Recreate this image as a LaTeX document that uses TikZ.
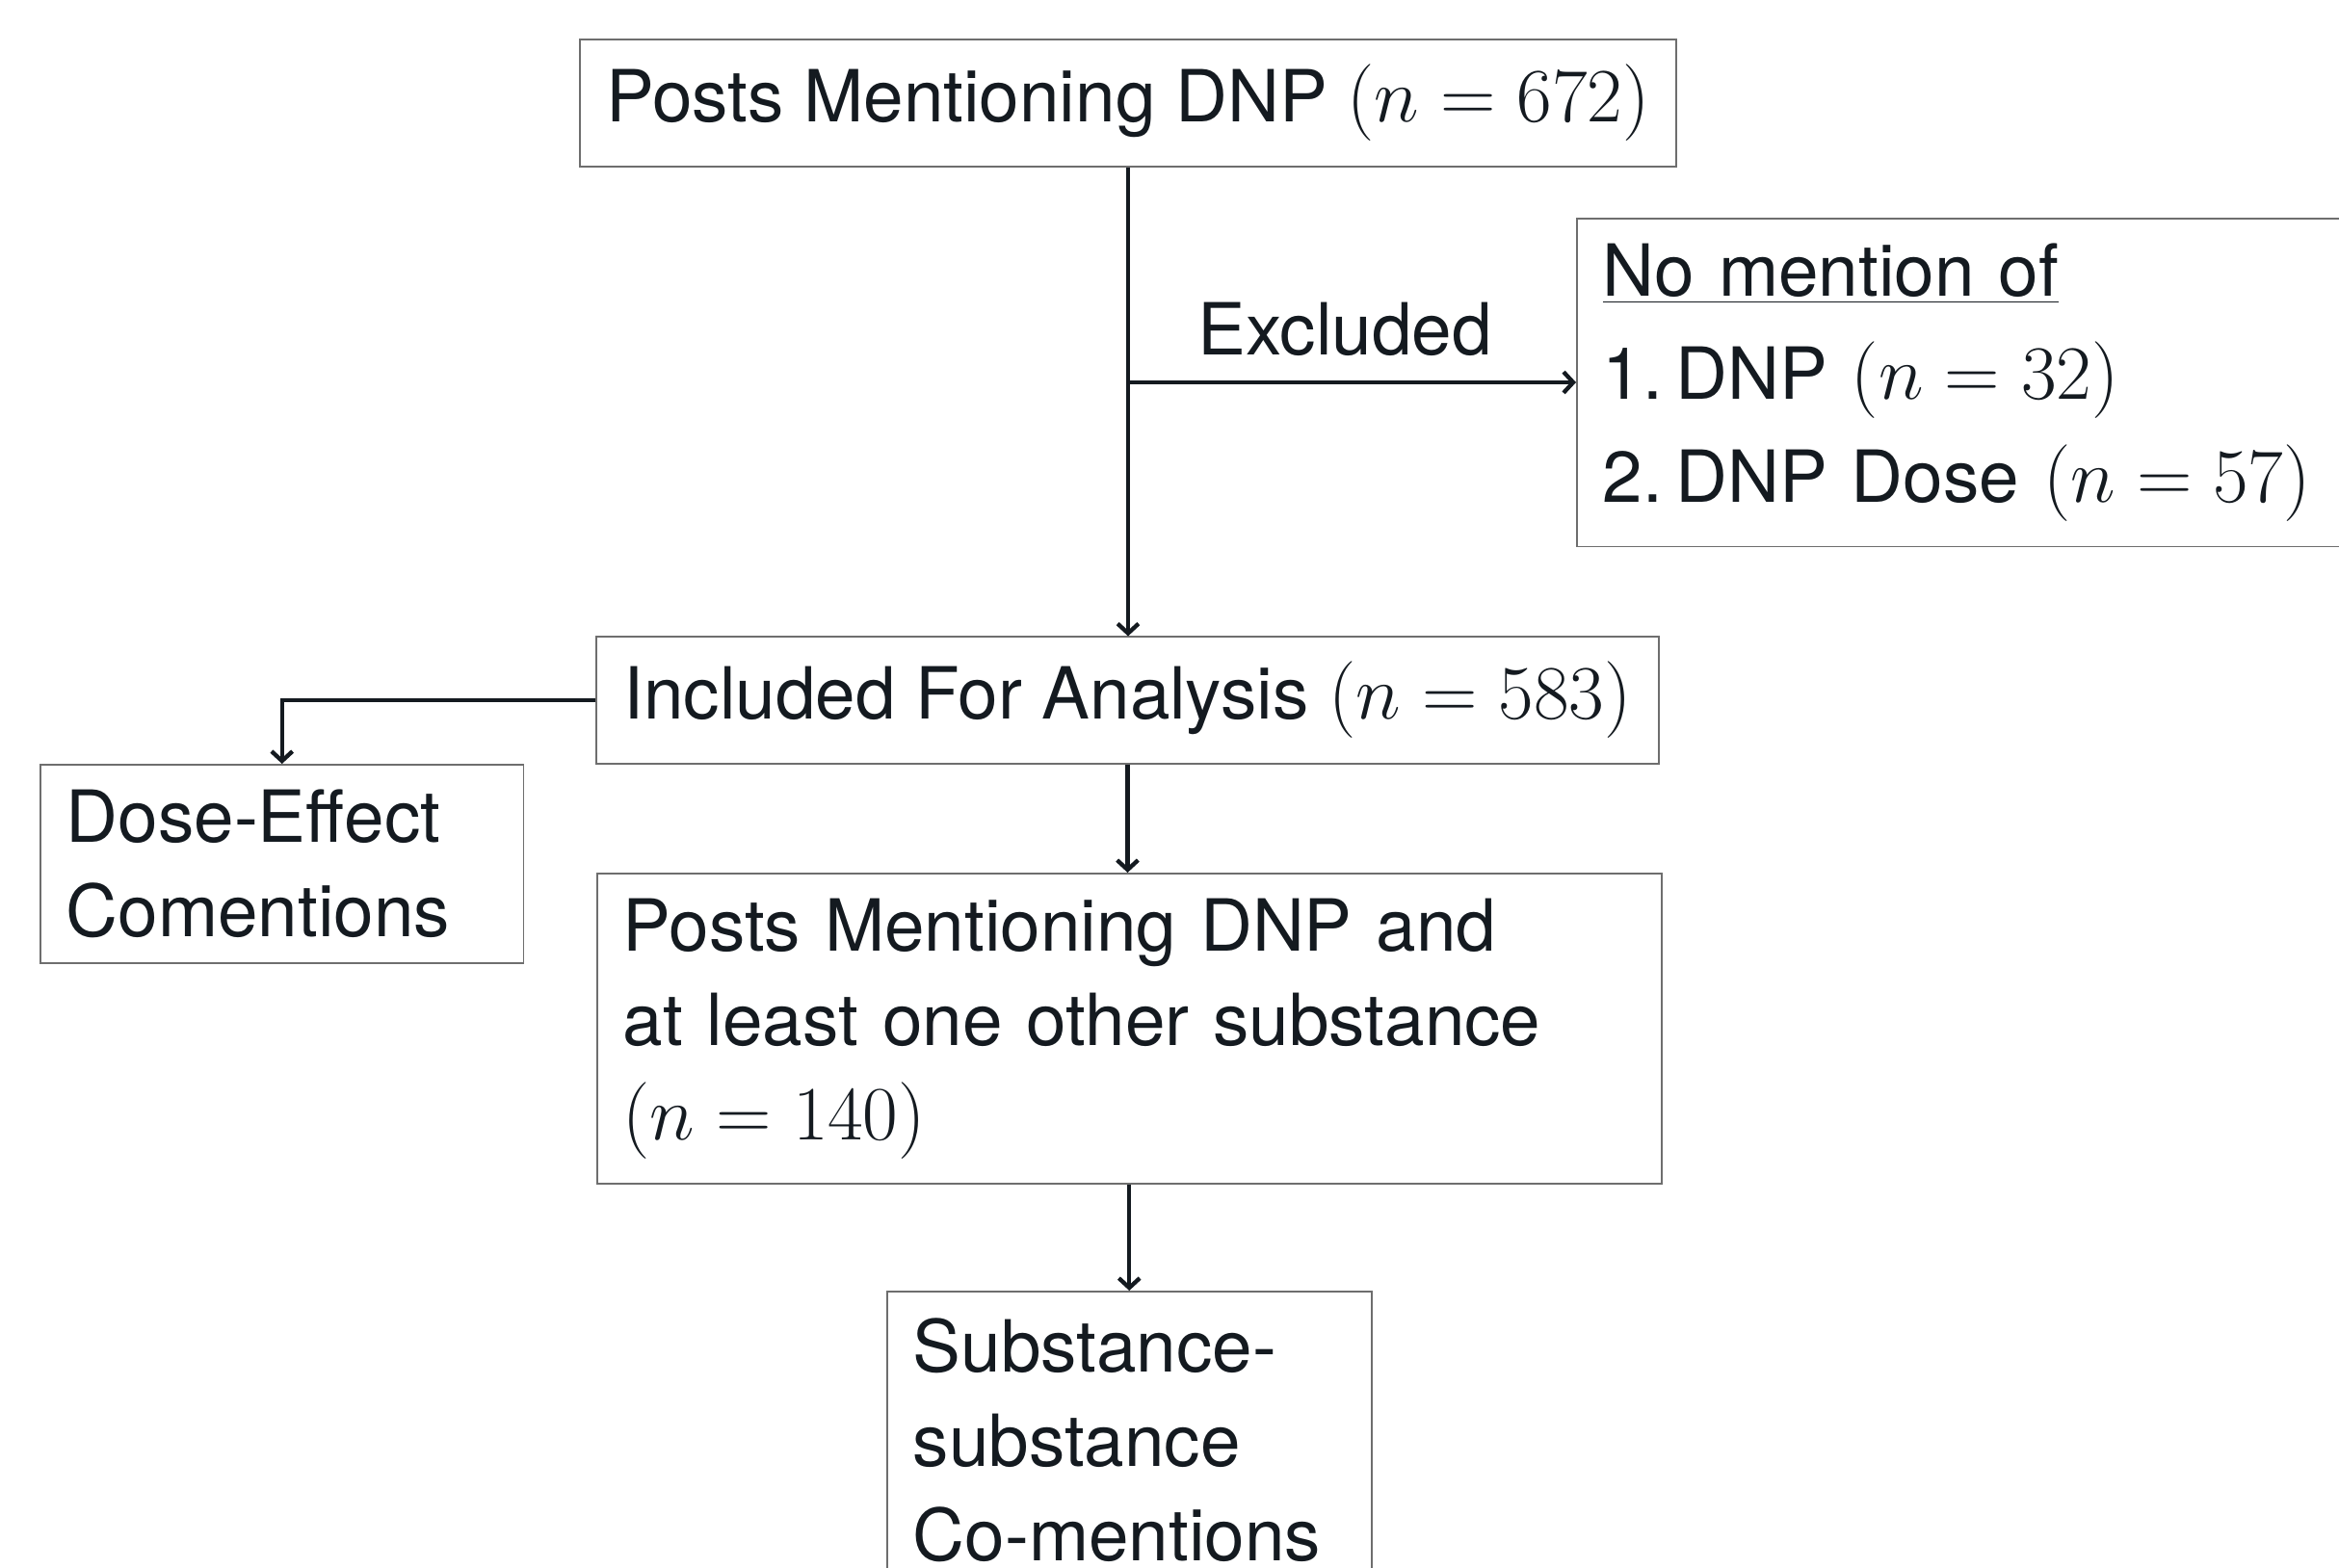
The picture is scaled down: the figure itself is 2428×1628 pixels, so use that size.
\RequirePackage{fix-cm}
\documentclass[tikz,border=0pt]{standalone}
\usepackage[no-math]{fontspec}
\setmainfont{TeX Gyre Heros}
\usetikzlibrary{arrows.meta}
\definecolor{ink}{RGB}{20,26,32}
\definecolor{frame}{RGB}{110,110,110}
\newcommand{\ncount}[1]{{\fontsize{23.9pt}{29.4pt}\selectfont$(n=#1)$}}
\begin{document}
\begin{tikzpicture}[x=0.3pt,y=-0.3pt,
  box/.style={draw=frame, line width=0.45pt, rectangle, inner xsep=8.1pt, inner ysep=7.8pt,
    text=ink, font=\fontsize{22.4pt}{29.4pt}\selectfont, align=left},
  lbl/.style={text=ink, font=\fontsize{22.4pt}{29.4pt}\selectfont, inner sep=0pt},
  conn/.style={draw=ink, line width=1.3pt},
  arr/.style={conn, -{Straight Barb[length=3pt,width=6.5pt]}}]
\useasboundingbox (0,0) rectangle (2428,1628);
\clip (0,0) rectangle (2428,1628);
\fill[white] (0,0) rectangle (2428,1628);

\node[box, minimum width=341.4pt, minimum height=38.4pt] (b1) at (1171,107)
  {Posts Mentioning DNP \ncount{672}};
\node[box, anchor=north west, minimum height=102pt, text width=233.4pt,
  font=\fontsize{22.4pt}{32.1pt}\selectfont] (b2) at (1636,226)
  {\underline{No mention of}\\1.\hspace{0.18em}DNP \ncount{32}\\2.\hspace{0.18em}DNP Dose \ncount{57}};
\node[lbl, anchor=base] (ex) at (1396,368) {Excluded};
\node[box, minimum width=330.9pt, minimum height=38.4pt] (b3) at (1170.5,727)
  {Included For Analysis \ncount{583}};
\node[box, anchor=north west, text width=134.4pt, minimum height=61.5pt] (b4) at (41,793)
  {Dose-Effect\\Comentions};
\node[box, anchor=north west, text width=315.3pt, minimum height=96pt] (b5) at (619,906)
  {Posts Mentioning DNP and\\at least one other substance\\\ncount{140}};
\node[box, anchor=north west, text width=134.7pt, inner ysep=8.4pt] (b6) at (920,1340)
  {Substance-\\substance\\Co-mentions};

\draw[arr] (b1.south) -- (b1.south |- b3.north);
\coordinate (br) at (b1.south |- b2.west);
\draw[arr] (br) -- (b2.west);
\draw[arr] (b3.west) -| (b4.north);
\draw[arr] (b3.south) -- (b3.south |- b5.north);
\draw[arr] (b5.south) -- (b5.south |- b6.north);
\end{tikzpicture}
\end{document}
